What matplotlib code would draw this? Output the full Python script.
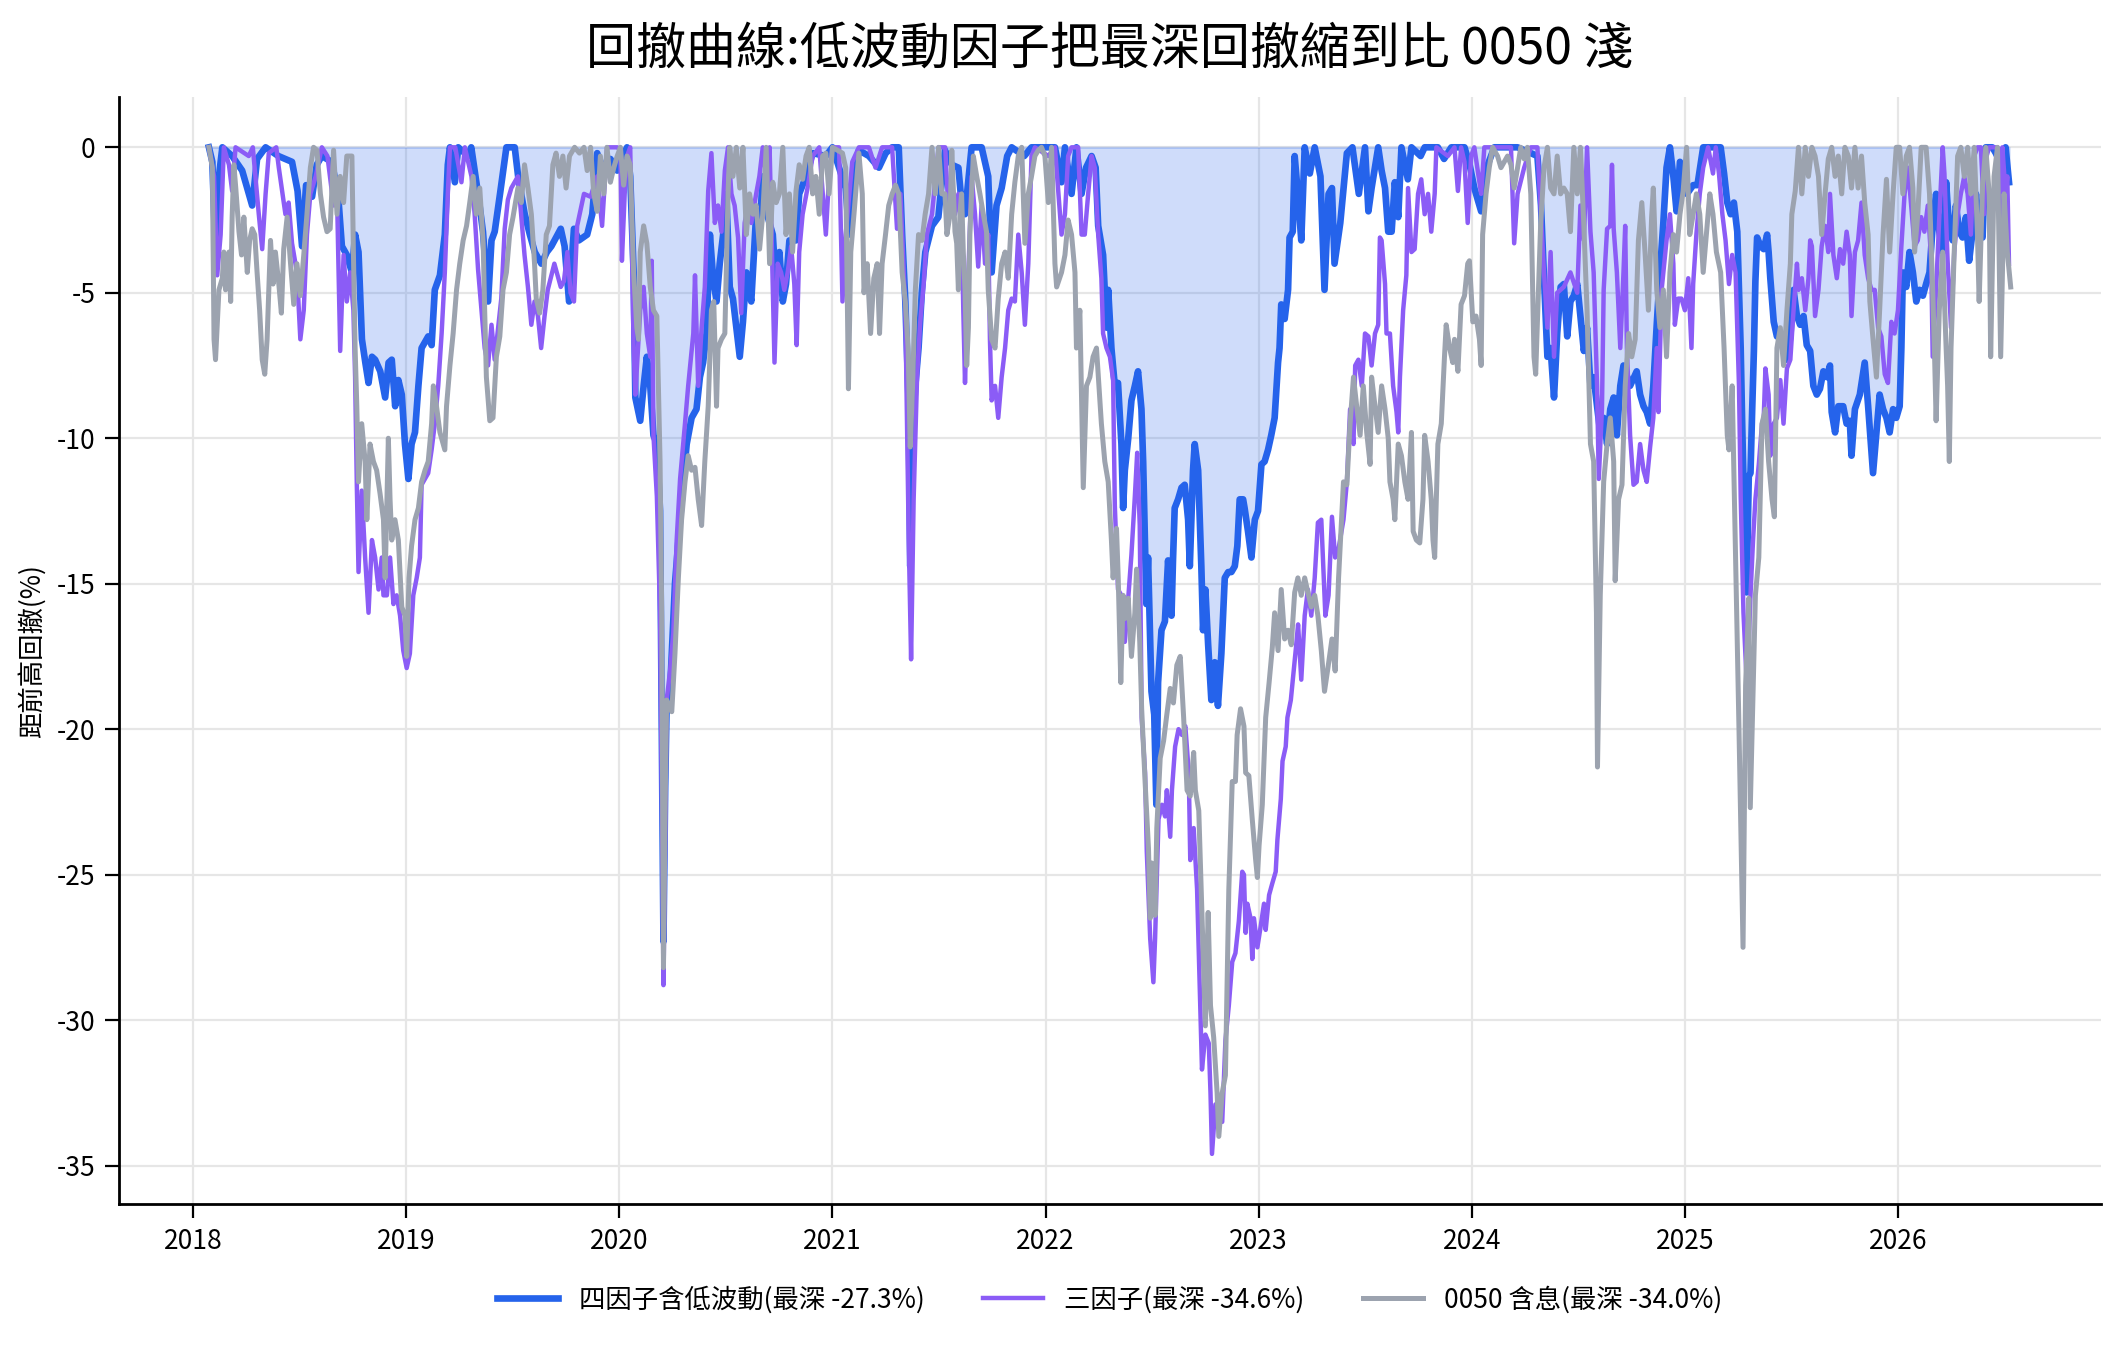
import numpy as np
import matplotlib
matplotlib.use("Agg")
import matplotlib.pyplot as plt

plt.rcParams['font.family'] = ['Noto Sans CJK TC', 'DejaVu Sans']
plt.rcParams['axes.unicode_minus'] = False

# drawdown from previous high (%); (year, value)
four_factor = [
    (2018.074, 0), (2018.090, -0.5), (2018.105, -3.7), (2018.121, -1.0), (2018.137, 0), (2018.183, -0.3),
    (2018.230, -0.8), (2018.277, -2.0), (2018.300, -0.4), (2018.340, 0), (2018.400, -0.3), (2018.464, -0.5),
    (2018.490, -1.5), (2018.511, -3.4), (2018.530, -1.3), (2018.558, -1.7), (2018.580, -0.6), (2018.604, -0.3),
    (2018.650, -0.5), (2018.680, -1.6), (2018.698, -3.4), (2018.721, -3.7), (2018.745, -4.3), (2018.760, -3.0),
    (2018.776, -3.6), (2018.792, -6.6), (2018.808, -7.4), (2018.823, -8.1), (2018.839, -7.2), (2018.854, -7.3),
    (2018.878, -7.7), (2018.901, -8.6), (2018.917, -7.4), (2018.932, -7.3), (2018.948, -8.9), (2018.963, -8.0),
    (2018.979, -8.5), (2018.994, -10.2), (2019.010, -11.4), (2019.025, -10.2), (2019.041, -9.8), (2019.057, -8.2),
    (2019.072, -6.9), (2019.103, -6.5), (2019.119, -6.8), (2019.134, -4.9), (2019.158, -4.4), (2019.181, -3.0),
    (2019.195, -0.6), (2019.205, 0), (2019.228, -1.2), (2019.244, 0), (2019.290, -0.3), (2019.305, 0),
    (2019.337, -1.6), (2019.360, -2.9), (2019.384, -5.3), (2019.400, -3.2), (2019.415, -2.9), (2019.440, -1.6),
    (2019.470, 0), (2019.509, 0), (2019.525, -1.0), (2019.556, -2.3), (2019.580, -3.0), (2019.603, -3.6),
    (2019.634, -4.0), (2019.660, -3.6), (2019.681, -3.4), (2019.710, -3.0), (2019.725, -2.8), (2019.743, -3.4),
    (2019.764, -5.3), (2019.787, -2.8), (2019.810, -3.2), (2019.849, -3.0), (2019.873, -2.3), (2019.896, -0.2),
    (2019.927, -0.8), (2019.958, -0.4), (2019.990, -0.8), (2020.036, 0), (2020.051, -1.0), (2020.067, -4.3),
    (2020.075, -8.6), (2020.098, -9.4), (2020.114, -8.2), (2020.129, -7.2), (2020.145, -8.2), (2020.160, -9.9),
    (2020.176, -10.2), (2020.191, -12.5), (2020.199, -20.0), (2020.207, -27.3), (2020.215, -22.0), (2020.222, -19.1),
    (2020.238, -18.7), (2020.261, -15.0), (2020.285, -12.8), (2020.316, -10.2), (2020.339, -9.3), (2020.362, -9.0),
    (2020.378, -7.9), (2020.393, -7.4), (2020.409, -6.4), (2020.425, -3.0), (2020.440, -4.5), (2020.456, -5.3),
    (2020.471, -4.0), (2020.487, -3.0), (2020.502, -1.6), (2020.518, -4.8), (2020.533, -5.2), (2020.565, -7.2),
    (2020.580, -6.0), (2020.596, -4.3), (2020.619, -5.3), (2020.642, -2.3), (2020.657, -3.0), (2020.673, -1.0),
    (2020.689, -2.2), (2020.720, -3.0), (2020.736, -4.9), (2020.751, -3.6), (2020.767, -5.3), (2020.782, -4.7),
    (2020.798, -3.2), (2020.829, -3.2), (2020.844, -1.6), (2020.876, -1.0), (2020.907, -0.2), (2020.969, -0.3),
    (2021.000, 0), (2021.031, -0.7), (2021.062, -1.4), (2021.078, -3.0), (2021.093, -1.6), (2021.124, -0.1),
    (2021.171, -0.3), (2021.218, -0.7), (2021.250, -0.2), (2021.280, 0), (2021.311, 0), (2021.327, -3.0),
    (2021.342, -5.3), (2021.358, -8.9), (2021.365, -14.4), (2021.373, -10.0), (2021.389, -8.2), (2021.404, -6.9),
    (2021.420, -4.9), (2021.436, -3.6), (2021.467, -2.7), (2021.497, -2.4), (2021.528, -0.1), (2021.560, -0.6),
    (2021.591, -0.7), (2021.607, -2.0), (2021.622, -2.3), (2021.653, 0), (2021.700, 0), (2021.731, -1.0),
    (2021.747, -4.3), (2021.770, -2.0), (2021.794, -1.4), (2021.820, -0.3), (2021.841, 0), (2021.900, -0.3),
    (2021.934, 0), (2021.990, 0), (2022.044, 0), (2022.075, -1.2), (2022.091, 0), (2022.122, -1.6),
    (2022.145, 0), (2022.169, -1.6), (2022.190, -0.7), (2022.216, -0.3), (2022.235, -0.7), (2022.247, -2.7),
    (2022.270, -3.7), (2022.286, -6.2), (2022.294, -4.9), (2022.309, -6.9), (2022.325, -8.2), (2022.340, -8.1),
    (2022.356, -10.2), (2022.364, -12.4), (2022.372, -11.1), (2022.388, -10.0), (2022.403, -8.7), (2022.419, -8.2),
    (2022.434, -7.7), (2022.450, -9.0), (2022.458, -10.8), (2022.466, -13.5), (2022.473, -15.7), (2022.481, -14.1),
    (2022.497, -18.7), (2022.510, -19.5), (2022.520, -22.6), (2022.528, -18.4), (2022.544, -16.6), (2022.560, -16.3),
    (2022.575, -14.2), (2022.591, -16.1), (2022.598, -14.2), (2022.606, -12.4), (2022.622, -12.1), (2022.638, -11.7),
    (2022.653, -11.6), (2022.669, -12.8), (2022.677, -14.4), (2022.692, -11.1), (2022.700, -10.2), (2022.716, -11.1),
    (2022.731, -14.4), (2022.739, -16.6), (2022.750, -15.2), (2022.763, -17.1), (2022.778, -19.0), (2022.794, -17.7),
    (2022.809, -19.2), (2022.825, -17.4), (2022.841, -14.8), (2022.857, -14.6), (2022.872, -14.6), (2022.888, -14.4),
    (2022.900, -13.7), (2022.911, -12.1), (2022.927, -12.1), (2022.934, -12.4), (2022.950, -13.2), (2022.966, -14.1),
    (2022.982, -12.8), (2022.997, -12.5), (2023.013, -10.9), (2023.028, -10.8), (2023.044, -10.4), (2023.059, -9.9),
    (2023.075, -9.3), (2023.091, -7.4), (2023.098, -6.9), (2023.106, -5.4), (2023.122, -5.9), (2023.138, -4.9),
    (2023.145, -3.1), (2023.160, -2.9), (2023.169, -0.3), (2023.184, -1.6), (2023.200, -3.2), (2023.216, 0),
    (2023.240, -0.9), (2023.263, 0), (2023.290, -1.0), (2023.309, -4.9), (2023.328, -1.6), (2023.344, -1.4),
    (2023.356, -4.0), (2023.383, -2.6), (2023.414, -0.2), (2023.440, 0), (2023.470, -1.6), (2023.499, 0),
    (2023.515, -2.2), (2023.530, -1.4), (2023.561, 0), (2023.577, -0.8), (2023.593, -1.4), (2023.608, -2.9),
    (2023.624, -2.9), (2023.639, -1.2), (2023.655, -2.4), (2023.670, 0), (2023.700, -1.1), (2023.717, 0),
    (2023.760, -0.3), (2023.779, 0), (2023.841, 0), (2023.870, -0.4), (2023.904, 0), (2023.966, 0),
    (2023.990, -0.6), (2024.012, -1.4), (2024.044, -2.2), (2024.075, -0.6), (2024.106, 0), (2024.215, 0),
    (2024.308, -0.3), (2024.325, -2.0), (2024.339, -4.5), (2024.355, -7.2), (2024.370, -6.9), (2024.386, -8.6),
    (2024.401, -6.4), (2024.417, -4.8), (2024.432, -4.7), (2024.448, -6.5), (2024.463, -5.3), (2024.479, -5.1),
    (2024.495, -4.7), (2024.510, -5.8), (2024.526, -7.0), (2024.541, -6.2), (2024.557, -8.2), (2024.572, -7.9),
    (2024.588, -8.9), (2024.603, -9.8), (2024.619, -9.3), (2024.635, -10.2), (2024.650, -9.0), (2024.666, -8.6),
    (2024.681, -9.9), (2024.697, -8.2), (2024.712, -7.5), (2024.743, -8.2), (2024.774, -7.7), (2024.790, -8.5),
    (2024.806, -8.9), (2024.821, -9.1), (2024.837, -9.5), (2024.852, -8.2), (2024.868, -6.1), (2024.883, -4.3),
    (2024.899, -2.6), (2024.914, -0.7), (2024.930, 0), (2024.946, -1.0), (2024.961, -2.2), (2024.977, -0.5),
    (2024.992, -1.0), (2025.010, -1.6), (2025.039, -1.3), (2025.059, -1.3), (2025.086, 0), (2025.168, 0),
    (2025.184, -0.9), (2025.199, -1.9), (2025.215, -2.3), (2025.230, -1.9), (2025.246, -2.9), (2025.254, -4.9),
    (2025.262, -6.9), (2025.269, -9.5), (2025.280, -13.0), (2025.290, -15.3), (2025.300, -11.3), (2025.308, -11.2),
    (2025.316, -9.0), (2025.324, -7.0), (2025.331, -4.6), (2025.339, -3.1), (2025.355, -3.4), (2025.370, -3.5),
    (2025.386, -3.0), (2025.393, -3.6), (2025.401, -4.5), (2025.417, -6.0), (2025.432, -6.5), (2025.448, -6.4),
    (2025.463, -7.0), (2025.479, -7.3), (2025.495, -6.5), (2025.510, -4.9), (2025.526, -5.8), (2025.541, -6.1),
    (2025.557, -5.8), (2025.572, -6.8), (2025.588, -7.0), (2025.603, -8.2), (2025.619, -8.5), (2025.634, -8.3),
    (2025.650, -7.7), (2025.666, -7.9), (2025.681, -7.5), (2025.689, -9.1), (2025.705, -9.8), (2025.720, -8.9),
    (2025.743, -8.9), (2025.759, -9.5), (2025.774, -9.4), (2025.782, -10.6), (2025.798, -9.0), (2025.821, -8.5),
    (2025.844, -7.4), (2025.860, -8.9), (2025.883, -11.2), (2025.899, -9.8), (2025.914, -8.5), (2025.930, -9.0),
    (2025.946, -9.3), (2025.961, -9.8), (2025.977, -9.0), (2025.992, -9.3), (2026.008, -8.9), (2026.016, -6.9),
    (2026.023, -4.3), (2026.039, -4.8), (2026.054, -3.6), (2026.070, -4.3), (2026.086, -5.3), (2026.101, -4.9),
    (2026.117, -5.1), (2026.132, -4.7), (2026.148, -4.3), (2026.163, -2.7), (2026.179, -1.6), (2026.194, -2.9),
    (2026.210, -3.6), (2026.226, -1.2), (2026.241, -2.9), (2026.257, -3.2), (2026.272, -2.0), (2026.288, -2.9),
    (2026.303, -3.1), (2026.319, -2.4), (2026.334, -3.9), (2026.350, -2.9), (2026.366, -1.6), (2026.381, -2.7),
    (2026.397, -3.1), (2026.412, 0), (2026.443, 0), (2026.459, -0.2), (2026.490, -0.7), (2026.505, 0),
    (2026.521, -1.2),
]

three_factor = [
    (2018.074, 0), (2018.098, -1.0), (2018.113, -4.4), (2018.129, -3.0), (2018.144, 0), (2018.168, -0.6),
    (2018.183, -1.5), (2018.199, 0), (2018.261, -0.3), (2018.280, 0), (2018.308, -2.3), (2018.324, -3.5),
    (2018.340, -1.6), (2018.355, -0.2), (2018.390, 0), (2018.402, -0.7), (2018.433, -2.3), (2018.448, -1.9),
    (2018.464, -3.3), (2018.487, -4.3), (2018.503, -6.6), (2018.519, -5.6), (2018.534, -3.0), (2018.550, -1.6),
    (2018.575, -1.0), (2018.604, 0), (2018.630, -0.3), (2018.659, -2.0), (2018.675, -1.6), (2018.690, -7.0),
    (2018.706, -3.7), (2018.721, -5.3), (2018.737, -4.3), (2018.752, -5.6), (2018.760, -7.9), (2018.768, -11.6),
    (2018.776, -14.6), (2018.791, -11.8), (2018.807, -14.1), (2018.823, -16.0), (2018.839, -13.5), (2018.854, -14.1),
    (2018.870, -15.2), (2018.885, -14.1), (2018.893, -15.4), (2018.909, -15.4), (2018.924, -14.1), (2018.940, -15.7),
    (2018.955, -15.4), (2018.971, -16.1), (2018.986, -17.3), (2019.002, -17.9), (2019.017, -17.4), (2019.033, -15.4),
    (2019.049, -14.8), (2019.064, -14.1), (2019.072, -11.6), (2019.103, -11.2), (2019.119, -10.4), (2019.134, -9.5),
    (2019.150, -8.2), (2019.166, -6.4), (2019.181, -4.3), (2019.195, -1.6), (2019.205, 0), (2019.230, 0),
    (2019.259, -1.2), (2019.275, 0), (2019.306, -1.0), (2019.321, -2.3), (2019.337, -4.2), (2019.353, -5.6),
    (2019.368, -6.9), (2019.384, -7.5), (2019.400, -6.1), (2019.415, -7.3), (2019.431, -6.2), (2019.446, -5.2),
    (2019.462, -2.8), (2019.477, -1.8), (2019.493, -1.4), (2019.524, -1.0), (2019.555, -3.7), (2019.571, -4.8),
    (2019.587, -6.1), (2019.602, -5.3), (2019.618, -5.8), (2019.633, -6.9), (2019.649, -5.8), (2019.664, -4.9),
    (2019.695, -4.0), (2019.725, -4.8), (2019.740, -4.6), (2019.756, -3.6), (2019.771, -5.0), (2019.787, -5.3),
    (2019.802, -2.7), (2019.834, -1.6), (2019.865, -1.7), (2019.896, -1.0), (2019.919, -2.7), (2019.942, 0),
    (2019.990, 0), (2020.005, -0.1), (2020.012, -3.9), (2020.025, -1.6), (2020.036, -0.3), (2020.051, 0),
    (2020.067, -6.9), (2020.075, -8.5), (2020.098, -5.6), (2020.114, -4.8), (2020.129, -6.4), (2020.145, -7.2),
    (2020.152, -3.9), (2020.160, -9.9), (2020.176, -12.0), (2020.191, -16.0), (2020.199, -22.0), (2020.207, -28.8),
    (2020.215, -24.0), (2020.222, -19.0), (2020.238, -18.0), (2020.253, -16.7), (2020.269, -13.5), (2020.285, -11.4),
    (2020.308, -9.5), (2020.323, -8.2), (2020.347, -6.4), (2020.355, -4.4), (2020.370, -8.2), (2020.386, -6.2),
    (2020.401, -4.8), (2020.417, -1.5), (2020.432, -0.2), (2020.448, -2.6), (2020.463, -2.0), (2020.479, -2.9),
    (2020.495, -0.8), (2020.510, 0), (2020.526, -1.6), (2020.541, -2.0), (2020.557, -3.1), (2020.572, -5.7),
    (2020.588, -2.6), (2020.603, -2.0), (2020.619, -2.6), (2020.642, -1.6), (2020.657, -1.0), (2020.673, 0),
    (2020.689, -1.0), (2020.705, 0), (2020.728, -7.4), (2020.743, -4.0), (2020.759, -4.3), (2020.774, -4.9),
    (2020.790, -4.3), (2020.806, -3.4), (2020.821, -4.7), (2020.832, -6.8), (2020.844, -3.6), (2020.860, -2.3),
    (2020.883, -1.4), (2020.907, -0.3), (2020.938, 0), (2020.969, -3.0), (2020.984, -1.0), (2021.000, 0),
    (2021.031, 0), (2021.047, -5.3), (2021.062, -3.0), (2021.093, -0.5), (2021.124, 0), (2021.171, 0),
    (2021.202, -0.7), (2021.233, 0), (2021.280, 0), (2021.303, -2.8), (2021.319, -1.6), (2021.342, -5.6),
    (2021.358, -13.5), (2021.369, -17.6), (2021.381, -12.1), (2021.397, -7.9), (2021.412, -6.0), (2021.428, -4.7),
    (2021.443, -3.0), (2021.467, -2.3), (2021.498, 0), (2021.529, 0), (2021.545, -2.3), (2021.560, -1.0),
    (2021.575, -2.3), (2021.591, -1.6), (2021.607, -2.9), (2021.614, -5.6), (2021.622, -8.1), (2021.638, -4.3),
    (2021.653, -1.0), (2021.669, -2.3), (2021.684, -4.1), (2021.700, -2.0), (2021.716, -4.0), (2021.731, -3.0),
    (2021.739, -6.6), (2021.747, -8.7), (2021.763, -8.2), (2021.778, -9.3), (2021.794, -7.9), (2021.810, -6.9),
    (2021.825, -5.6), (2021.841, -5.2), (2021.856, -5.3), (2021.872, -3.0), (2021.888, -4.3), (2021.903, -6.1),
    (2021.919, -4.0), (2021.934, -0.3), (2021.950, 0), (2022.013, -0.3), (2022.044, 0), (2022.075, -3.0),
    (2022.091, -2.3), (2022.106, -0.3), (2022.122, 0), (2022.153, 0), (2022.169, -3.0), (2022.184, -3.0),
    (2022.200, -1.6), (2022.216, -0.3), (2022.231, -0.7), (2022.247, -3.0), (2022.262, -4.5), (2022.270, -6.4),
    (2022.286, -6.9), (2022.302, -7.2), (2022.317, -8.0), (2022.325, -12.3), (2022.340, -15.2), (2022.356, -15.4),
    (2022.372, -17.0), (2022.388, -15.5), (2022.403, -14.0), (2022.419, -12.0), (2022.430, -10.5), (2022.442, -13.0),
    (2022.451, -19.6), (2022.467, -21.5), (2022.475, -24.2), (2022.491, -27.2), (2022.506, -28.7), (2022.514, -27.2),
    (2022.530, -23.1), (2022.546, -22.6), (2022.561, -23.0), (2022.569, -22.1), (2022.585, -23.7), (2022.593, -22.1),
    (2022.608, -20.6), (2022.624, -20.0), (2022.640, -20.2), (2022.656, -19.9), (2022.672, -21.5), (2022.679, -24.5),
    (2022.695, -23.4), (2022.711, -25.5), (2022.726, -29.5), (2022.734, -31.7), (2022.750, -30.5), (2022.766, -30.8),
    (2022.774, -32.5), (2022.781, -34.6), (2022.797, -32.9), (2022.813, -33.2), (2022.829, -33.5), (2022.844, -30.7),
    (2022.860, -29.5), (2022.876, -28.0), (2022.891, -27.7), (2022.907, -26.6), (2022.923, -24.9), (2022.931, -25.0),
    (2022.939, -27.0), (2022.947, -26.0), (2022.962, -26.5), (2022.970, -27.9), (2022.978, -26.5), (2022.994, -27.5),
    (2023.009, -26.8), (2023.025, -26.0), (2023.033, -26.9), (2023.049, -25.7), (2023.064, -25.3), (2023.080, -24.9),
    (2023.088, -23.8), (2023.104, -22.4), (2023.112, -21.1), (2023.127, -20.6), (2023.135, -19.6), (2023.151, -19.0),
    (2023.159, -18.4), (2023.175, -17.2), (2023.185, -16.4), (2023.200, -18.3), (2023.216, -16.1), (2023.231, -15.2),
    (2023.247, -16.1), (2023.263, -14.8), (2023.278, -12.9), (2023.294, -12.8), (2023.313, -16.1), (2023.328, -15.4),
    (2023.344, -12.7), (2023.359, -14.1), (2023.375, -13.8), (2023.398, -12.8), (2023.414, -11.5), (2023.429, -9.0),
    (2023.445, -10.2), (2023.453, -7.5), (2023.468, -7.3), (2023.484, -8.2), (2023.499, -6.4), (2023.515, -6.5),
    (2023.530, -7.5), (2023.546, -6.4), (2023.561, -6.1), (2023.569, -3.1), (2023.577, -3.2), (2023.593, -4.7),
    (2023.600, -6.4), (2023.616, -6.4), (2023.631, -8.2), (2023.647, -9.1), (2023.655, -9.8), (2023.663, -7.9),
    (2023.678, -5.6), (2023.693, -4.4), (2023.701, -1.4), (2023.717, -3.6), (2023.732, -3.5), (2023.748, -1.6),
    (2023.763, -1.1), (2023.779, -2.3), (2023.795, -1.6), (2023.810, -2.9), (2023.826, -1.6), (2023.834, 0),
    (2023.888, -0.3), (2023.919, 0), (2023.935, -1.5), (2023.950, 0), (2023.966, -0.5), (2023.981, -2.6),
    (2023.997, -0.3), (2024.012, 0), (2024.044, -1.6), (2024.059, 0), (2024.121, 0), (2024.184, 0),
    (2024.199, -3.3), (2024.215, -1.6), (2024.246, -0.7), (2024.277, 0), (2024.308, 0), (2024.339, -4.3),
    (2024.355, -6.2), (2024.370, -3.6), (2024.386, -7.2), (2024.401, -5.0), (2024.432, -4.8), (2024.463, -4.3),
    (2024.495, -5.0), (2024.510, -2.0), (2024.526, -3.2), (2024.541, 0), (2024.557, -2.9), (2024.572, -4.3),
    (2024.588, -8.2), (2024.596, -11.4), (2024.611, -9.0), (2024.619, -4.9), (2024.635, -2.8), (2024.650, -2.7),
    (2024.658, -0.6), (2024.666, -2.8), (2024.681, -4.3), (2024.697, -6.9), (2024.712, -4.3), (2024.720, -2.7),
    (2024.728, -6.9), (2024.743, -9.9), (2024.759, -11.6), (2024.774, -11.5), (2024.790, -10.2), (2024.806, -11.1),
    (2024.821, -11.5), (2024.837, -10.3), (2024.852, -9.3), (2024.868, -6.9), (2024.876, -9.1), (2024.891, -4.9),
    (2024.914, -3.2), (2024.930, -2.3), (2024.946, -4.0), (2024.953, -6.1), (2024.969, -5.2), (2024.984, -5.2),
    (2025.000, -5.6), (2025.016, -4.5), (2025.031, -6.9), (2025.039, -4.7), (2025.054, -3.0), (2025.070, -1.6),
    (2025.086, -0.7), (2025.109, 0), (2025.132, -0.9), (2025.145, 0), (2025.160, -0.9), (2025.176, -2.3),
    (2025.191, -3.2), (2025.207, -4.7), (2025.222, -3.7), (2025.238, -4.3), (2025.254, -8.2), (2025.262, -12.0),
    (2025.275, -16.0), (2025.289, -18.2), (2025.300, -17.0), (2025.308, -15.4), (2025.320, -13.5), (2025.331, -12.1),
    (2025.347, -10.9), (2025.362, -9.5), (2025.370, -9.3), (2025.378, -7.6), (2025.393, -8.5), (2025.401, -10.6),
    (2025.417, -9.5), (2025.432, -9.3), (2025.448, -8.0), (2025.463, -9.5), (2025.479, -7.6), (2025.495, -7.3),
    (2025.510, -5.6), (2025.526, -4.0), (2025.534, -4.9), (2025.549, -4.5), (2025.565, -5.6), (2025.580, -4.5),
    (2025.588, -3.2), (2025.596, -3.4), (2025.611, -5.8), (2025.627, -4.9), (2025.642, -3.4), (2025.658, -2.7),
    (2025.673, -3.6), (2025.681, -1.6), (2025.697, -3.7), (2025.713, -4.5), (2025.728, -3.5), (2025.743, -4.0),
    (2025.759, -2.9), (2025.774, -3.7), (2025.782, -5.8), (2025.798, -3.6), (2025.813, -3.2), (2025.829, -1.9),
    (2025.844, -3.7), (2025.860, -4.5), (2025.876, -4.9), (2025.891, -4.9), (2025.907, -6.2), (2025.922, -6.5),
    (2025.938, -7.8), (2025.953, -8.1), (2025.969, -6.0), (2025.984, -6.4), (2026.000, -5.6), (2026.016, -3.4),
    (2026.031, -1.6), (2026.047, -0.7), (2026.062, -2.0), (2026.078, -3.4), (2026.093, -3.2), (2026.109, -2.4),
    (2026.124, -2.9), (2026.140, -2.0), (2026.156, -3.9), (2026.163, -7.2), (2026.179, -4.9), (2026.194, -2.4),
    (2026.210, 0), (2026.218, -0.9), (2026.233, -3.9), (2026.249, -6.2), (2026.264, -3.6), (2026.280, -2.3),
    (2026.295, -1.6), (2026.311, -1.0), (2026.327, -1.6), (2026.342, -3.0), (2026.358, -0.3), (2026.373, 0),
    (2026.389, 0), (2026.404, -2.3), (2026.412, -0.4), (2026.428, 0), (2026.467, 0), (2026.474, -1.6),
    (2026.482, -3.6), (2026.490, 0), (2026.505, -1.6), (2026.513, -1.0), (2026.521, -4.0),
]

etf_0050 = [
    (2018.074, 0), (2018.090, -0.7), (2018.098, -6.6), (2018.105, -7.3), (2018.121, -4.9), (2018.137, -4.5),
    (2018.144, -3.6), (2018.152, -4.9), (2018.168, -3.6), (2018.176, -5.3), (2018.183, -2.4), (2018.191, -0.6),
    (2018.200, -1.4), (2018.215, -2.9), (2018.227, -3.7), (2018.238, -2.4), (2018.254, -4.3), (2018.265, -3.2),
    (2018.277, -2.8), (2018.289, -3.0), (2018.300, -4.3), (2018.312, -5.6), (2018.324, -7.3), (2018.336, -7.8),
    (2018.347, -6.6), (2018.363, -3.2), (2018.375, -4.7), (2018.386, -3.6), (2018.402, -4.7), (2018.414, -5.7),
    (2018.425, -3.5), (2018.441, -2.4), (2018.456, -3.9), (2018.472, -5.4), (2018.487, -4.0), (2018.503, -5.1),
    (2018.519, -3.7), (2018.534, -2.3), (2018.550, -0.7), (2018.565, 0), (2018.581, -0.1), (2018.597, -1.6),
    (2018.612, -2.4), (2018.628, -2.9), (2018.643, -2.8), (2018.659, -0.1), (2018.675, -2.3), (2018.690, -1.0),
    (2018.706, -1.9), (2018.721, -0.3), (2018.745, -0.3), (2018.752, -3.6), (2018.760, -6.9), (2018.768, -8.9),
    (2018.776, -11.5), (2018.791, -9.5), (2018.807, -10.8), (2018.815, -12.8), (2018.830, -10.2), (2018.846, -10.8),
    (2018.861, -11.1), (2018.877, -11.9), (2018.893, -12.8), (2018.901, -14.8), (2018.916, -10.0), (2018.924, -12.1),
    (2018.932, -13.5), (2018.947, -12.8), (2018.963, -13.5), (2018.979, -15.8), (2018.994, -16.1), (2019.002, -17.5),
    (2019.013, -14.8), (2019.025, -13.7), (2019.041, -12.8), (2019.057, -12.4), (2019.072, -11.5), (2019.088, -11.1),
    (2019.103, -10.8), (2019.119, -9.5), (2019.127, -8.2), (2019.142, -8.9), (2019.158, -9.8), (2019.173, -10.2),
    (2019.181, -10.4), (2019.189, -8.9), (2019.205, -7.5), (2019.220, -6.4), (2019.236, -4.9), (2019.251, -4.0),
    (2019.267, -3.2), (2019.283, -2.7), (2019.298, -1.9), (2019.314, -1.0), (2019.329, -2.3), (2019.345, -1.4),
    (2019.361, -3.3), (2019.368, -5.6), (2019.376, -7.9), (2019.392, -9.4), (2019.407, -9.3), (2019.423, -7.2),
    (2019.439, -6.5), (2019.454, -4.9), (2019.470, -4.3), (2019.485, -3.0), (2019.501, -2.4), (2019.524, -1.4),
    (2019.540, -1.9), (2019.555, -0.6), (2019.571, -1.4), (2019.587, -2.3), (2019.602, -4.0), (2019.610, -5.2),
    (2019.626, -5.7), (2019.641, -4.9), (2019.657, -3.0), (2019.672, -2.7), (2019.688, -0.6), (2019.703, -0.2),
    (2019.719, -1.0), (2019.735, -0.3), (2019.750, -1.4), (2019.766, -0.3), (2019.790, 0), (2019.813, -0.2),
    (2019.834, 0), (2019.849, -0.8), (2019.865, 0), (2019.880, -1.6), (2019.896, -2.2), (2019.911, -0.3),
    (2019.927, -1.6), (2019.942, 0), (2019.958, -1.2), (2019.974, -0.7), (2019.990, -0.3), (2020.005, 0),
    (2020.020, -1.3), (2020.036, -0.3), (2020.051, -0.6), (2020.067, -4.3), (2020.082, -6.2), (2020.090, -6.6),
    (2020.098, -3.6), (2020.114, -2.7), (2020.129, -3.3), (2020.145, -4.8), (2020.160, -5.6), (2020.176, -5.8),
    (2020.191, -10.8), (2020.199, -16.1), (2020.207, -28.2), (2020.215, -22.5), (2020.222, -19.0), (2020.246, -19.4),
    (2020.261, -17.4), (2020.277, -14.8), (2020.292, -12.8), (2020.308, -11.5), (2020.323, -10.6), (2020.339, -11.1),
    (2020.355, -11.0), (2020.370, -12.1), (2020.386, -13.0), (2020.401, -10.8), (2020.417, -8.9), (2020.432, -5.6),
    (2020.443, -5.3), (2020.456, -8.9), (2020.463, -6.9), (2020.479, -6.6), (2020.495, -6.4), (2020.510, -1.6),
    (2020.518, 0), (2020.533, -1.0), (2020.549, 0), (2020.565, -1.4), (2020.580, 0), (2020.596, -3.0),
    (2020.611, -1.6), (2020.627, -2.3), (2020.642, -2.0), (2020.658, -3.5), (2020.673, -2.3), (2020.689, 0),
    (2020.705, -4.0), (2020.720, -1.2), (2020.736, -1.9), (2020.751, -1.6), (2020.767, 0), (2020.782, -3.0),
    (2020.798, -1.6), (2020.813, -3.6), (2020.829, -1.5), (2020.844, -0.6), (2020.860, -1.1), (2020.876, -0.3),
    (2020.891, 0), (2020.907, -1.6), (2020.922, -1.0), (2020.938, -2.3), (2020.954, -0.3), (2020.969, -0.2),
    (2020.984, -1.6), (2021.000, 0), (2021.047, -0.2), (2021.062, -0.7), (2021.075, -8.3), (2021.086, -3.6),
    (2021.101, -2.3), (2021.124, -0.2), (2021.140, -1.6), (2021.148, -5.0), (2021.163, -4.0), (2021.179, -6.4),
    (2021.194, -4.5), (2021.210, -4.0), (2021.221, -6.4), (2021.233, -4.0), (2021.249, -3.0), (2021.264, -2.0),
    (2021.280, -1.6), (2021.296, -1.3), (2021.311, -1.6), (2021.327, -4.3), (2021.342, -5.3), (2021.355, -6.9),
    (2021.365, -10.3), (2021.376, -8.2), (2021.389, -4.9), (2021.404, -3.0), (2021.420, -3.2), (2021.435, -2.3),
    (2021.451, -1.6), (2021.467, 0), (2021.482, -1.6), (2021.498, 0), (2021.513, -1.6), (2021.528, -1.6),
    (2021.537, -3.0), (2021.552, -2.3), (2021.560, -0.1), (2021.575, -2.9), (2021.583, -3.3), (2021.591, -4.9),
    (2021.598, -2.3), (2021.606, -1.6), (2021.614, -3.6), (2021.622, -4.9), (2021.630, -7.5), (2021.638, -6.2),
    (2021.645, -3.0), (2021.653, -1.6), (2021.661, -0.3), (2021.677, -1.0), (2021.692, -1.6), (2021.708, -2.3),
    (2021.723, -2.9), (2021.731, -4.9), (2021.747, -6.6), (2021.763, -6.9), (2021.778, -5.2), (2021.794, -4.0),
    (2021.810, -3.6), (2021.825, -4.5), (2021.841, -2.3), (2021.856, -1.2), (2021.872, -0.3), (2021.888, 0),
    (2021.903, -3.3), (2021.919, -1.6), (2021.934, -1.0), (2021.950, -0.3), (2021.966, -0.1), (2021.981, 0),
    (2021.997, -0.3), (2022.013, -1.9), (2022.028, 0), (2022.044, -4.0), (2022.052, -4.8), (2022.075, -4.3),
    (2022.091, -3.7), (2022.106, -2.5), (2022.122, -3.0), (2022.138, -4.3), (2022.145, -6.9), (2022.161, -5.6),
    (2022.177, -11.7), (2022.192, -8.2), (2022.208, -7.9), (2022.223, -7.2), (2022.239, -6.9), (2022.255, -8.7),
    (2022.262, -9.5), (2022.278, -10.8), (2022.294, -11.5), (2022.309, -13.5), (2022.317, -14.8), (2022.333, -13.1),
    (2022.341, -14.8), (2022.353, -18.4), (2022.364, -15.4), (2022.372, -16.2), (2022.388, -15.5), (2022.403, -17.5),
    (2022.419, -16.0), (2022.427, -14.5), (2022.442, -17.0), (2022.451, -19.3), (2022.467, -21.8), (2022.483, -24.1),
    (2022.491, -26.5), (2022.498, -24.6), (2022.506, -25.0), (2022.514, -26.4), (2022.522, -23.4), (2022.538, -21.0),
    (2022.554, -20.4), (2022.569, -19.5), (2022.585, -18.6), (2022.600, -19.1), (2022.616, -17.8), (2022.632, -17.5),
    (2022.648, -19.6), (2022.664, -22.1), (2022.679, -22.3), (2022.695, -20.8), (2022.703, -22.1), (2022.719, -22.8),
    (2022.734, -26.4), (2022.750, -30.2), (2022.763, -26.3), (2022.774, -29.5), (2022.789, -30.6), (2022.805, -32.5),
    (2022.813, -34.0), (2022.829, -32.5), (2022.844, -31.9), (2022.860, -25.5), (2022.876, -21.8), (2022.891, -21.8),
    (2022.899, -20.2), (2022.915, -19.3), (2022.931, -19.9), (2022.939, -21.5), (2022.954, -21.6), (2022.970, -23.1),
    (2022.986, -24.5), (2022.994, -25.1), (2023.002, -24.0), (2023.017, -22.6), (2023.033, -19.6), (2023.049, -18.4),
    (2023.064, -17.2), (2023.075, -16.0), (2023.091, -17.3), (2023.106, -15.2), (2023.122, -16.9), (2023.138, -16.6),
    (2023.153, -17.1), (2023.169, -15.3), (2023.184, -14.8), (2023.200, -15.4), (2023.216, -14.8), (2023.231, -15.3),
    (2023.247, -15.8), (2023.263, -15.4), (2023.278, -16.1), (2023.294, -17.3), (2023.309, -18.7), (2023.325, -17.9),
    (2023.344, -16.9), (2023.359, -18.0), (2023.375, -14.8), (2023.398, -11.5), (2023.414, -11.6), (2023.429, -9.5),
    (2023.445, -7.9), (2023.460, -8.9), (2023.476, -9.9), (2023.491, -8.2), (2023.507, -9.8), (2023.523, -10.9),
    (2023.530, -7.9), (2023.546, -8.9), (2023.561, -9.8), (2023.577, -8.2), (2023.593, -9.0), (2023.608, -10.0),
    (2023.616, -11.5), (2023.631, -12.1), (2023.639, -12.8), (2023.655, -10.2), (2023.670, -10.6), (2023.686, -11.5),
    (2023.701, -12.1), (2023.717, -9.8), (2023.725, -13.2), (2023.740, -13.5), (2023.756, -13.6), (2023.771, -12.1),
    (2023.779, -9.9), (2023.795, -10.8), (2023.810, -12.1), (2023.818, -13.5), (2023.826, -14.1), (2023.841, -10.2),
    (2023.857, -9.5), (2023.872, -7.2), (2023.880, -6.1), (2023.896, -6.9), (2023.911, -7.4), (2023.919, -6.6),
    (2023.935, -7.7), (2023.950, -5.4), (2023.966, -5.1), (2023.981, -4.0), (2023.989, -3.9), (2024.005, -6.0),
    (2024.020, -5.8), (2024.036, -6.6), (2024.044, -7.5), (2024.051, -3.0), (2024.067, -1.6), (2024.082, -0.7),
    (2024.098, 0), (2024.121, -0.3), (2024.137, -0.7), (2024.168, -0.3), (2024.184, -0.6), (2024.199, -1.4),
    (2024.215, -0.7), (2024.230, 0), (2024.246, -0.4), (2024.261, 0), (2024.277, -1.6), (2024.285, -4.5),
    (2024.292, -7.2), (2024.300, -7.8), (2024.316, -4.3), (2024.323, -2.7), (2024.339, -0.7), (2024.355, 0),
    (2024.370, -1.4), (2024.386, -1.6), (2024.401, -0.3), (2024.417, -1.6), (2024.432, -1.4), (2024.448, -1.6),
    (2024.463, -2.9), (2024.479, 0), (2024.495, -1.6), (2024.510, 0), (2024.526, -2.7), (2024.541, -5.6),
    (2024.557, -10.2), (2024.572, -10.8), (2024.585, -16.0), (2024.590, -21.3), (2024.603, -15.4), (2024.619, -11.5),
    (2024.635, -10.2), (2024.650, -9.3), (2024.666, -10.8), (2024.673, -14.9), (2024.689, -12.1), (2024.705, -11.6),
    (2024.720, -8.2), (2024.736, -6.4), (2024.751, -7.2), (2024.767, -6.6), (2024.782, -3.2), (2024.798, -1.9),
    (2024.813, -3.6), (2024.829, -5.6), (2024.844, -2.4), (2024.852, -1.4), (2024.868, -4.9), (2024.883, -6.2),
    (2024.899, -4.9), (2024.914, -7.2), (2024.930, -4.3), (2024.946, -3.0), (2024.961, -3.6), (2024.977, -2.3),
    (2024.992, -1.5), (2025.008, 0), (2025.023, -3.0), (2025.039, -2.3), (2025.054, -1.6), (2025.070, -2.3),
    (2025.086, -4.3), (2025.101, -3.0), (2025.117, -1.6), (2025.132, -2.3), (2025.148, -3.6), (2025.168, -4.3),
    (2025.184, -6.9), (2025.199, -9.9), (2025.207, -10.4), (2025.222, -8.2), (2025.238, -14.1), (2025.254, -20.0),
    (2025.273, -27.5), (2025.285, -18.5), (2025.300, -15.5), (2025.307, -22.7), (2025.331, -15.4), (2025.347, -14.1),
    (2025.362, -9.5), (2025.378, -9.0), (2025.393, -10.8), (2025.409, -12.1), (2025.420, -12.7), (2025.432, -6.9),
    (2025.448, -6.2), (2025.463, -7.5), (2025.479, -5.6), (2025.495, -4.0), (2025.502, -2.3), (2025.518, -1.5),
    (2025.533, 0), (2025.549, -1.6), (2025.565, 0), (2025.580, -1.0), (2025.596, 0), (2025.611, -0.3),
    (2025.627, -1.0), (2025.642, -3.0), (2025.658, -1.6), (2025.673, -0.4), (2025.689, 0), (2025.705, -1.0),
    (2025.720, -0.3), (2025.736, -1.6), (2025.751, 0), (2025.767, -0.3), (2025.782, -1.4), (2025.798, 0),
    (2025.813, -1.4), (2025.829, -0.3), (2025.844, -1.9), (2025.860, -3.0), (2025.868, -5.3), (2025.883, -6.6),
    (2025.899, -7.9), (2025.914, -5.6), (2025.930, -3.0), (2025.946, -1.1), (2025.961, -3.6), (2025.977, -1.6),
    (2025.992, 0), (2026.008, 0), (2026.023, -1.6), (2026.039, -0.3), (2026.054, 0), (2026.070, -1.4),
    (2026.078, -3.6), (2026.093, -2.3), (2026.109, 0), (2026.132, 0), (2026.148, -1.6), (2026.163, -4.9),
    (2026.171, -6.9), (2026.179, -9.4), (2026.194, -5.6), (2026.210, -3.6), (2026.226, -6.9), (2026.233, -8.2),
    (2026.241, -10.8), (2026.249, -6.9), (2026.264, -3.6), (2026.280, -0.3), (2026.295, 0), (2026.311, -1.0),
    (2026.327, 0), (2026.342, -1.6), (2026.358, 0), (2026.373, -3.0), (2026.381, -5.3), (2026.397, -1.3),
    (2026.412, 0), (2026.428, -1.6), (2026.435, -7.2), (2026.451, -1.0), (2026.467, 0), (2026.482, -7.2),
    (2026.498, -1.6), (2026.513, -3.6), (2026.529, -4.8),
]

labels = ["四因子含低波動(最深 -27.3%)", "三因子(最深 -34.6%)", "0050 含息(最深 -34.0%)"]
colors = ["#2563eb", "#8b5cf6", "#9ca3af"]
years = list(range(2018, 2027))
yticks = [0, -5, -10, -15, -20, -25, -30, -35]

t4, d4 = np.array(four_factor).T
t3, d3 = np.array(three_factor).T
t0, d0 = np.array(etf_0050).T

fig, ax = plt.subplots(figsize=(10.61, 6.735), dpi=200)
fig.subplots_adjust(left=0.056, right=0.990, bottom=0.106, top=0.928)

ax.fill_between(t4, d4, 0, color=colors[0], alpha=0.22, linewidth=0.8)
ax.plot(t4, d4, color=colors[0], lw=2.4, label=labels[0])
ax.plot(t3, d3, color=colors[1], lw=1.6, label=labels[1])
ax.plot(t0, d0, color=colors[2], lw=1.8, label=labels[2])

ax.set_xticks(years)
ax.set_xticklabels([str(y) for y in years])
ax.set_yticks(yticks)
ax.set_yticklabels([str(v) for v in yticks])
ax.tick_params(labelsize=9.5, length=5, width=0.8)
ax.grid(True, color="#e6e6e6", lw=0.8)
ax.set_axisbelow(True)
for s in ["top", "right"]:
    ax.spines[s].set_visible(False)
ax.spines["left"].set_linewidth(1.0)
ax.spines["bottom"].set_linewidth(1.0)

ax.set_ylabel("距前高回撤(%)", fontsize=9.5)
ax.set_title("回撤曲線:低波動因子把最深回撤縮到比 0050 淺", fontsize=18, pad=12)

fig.legend(loc="center", bbox_to_anchor=(0.523, 0.035), ncol=3, frameon=False,
           fontsize=9.5, handlelength=2.3, columnspacing=2.2)

fig.savefig("out.png", dpi=200)
